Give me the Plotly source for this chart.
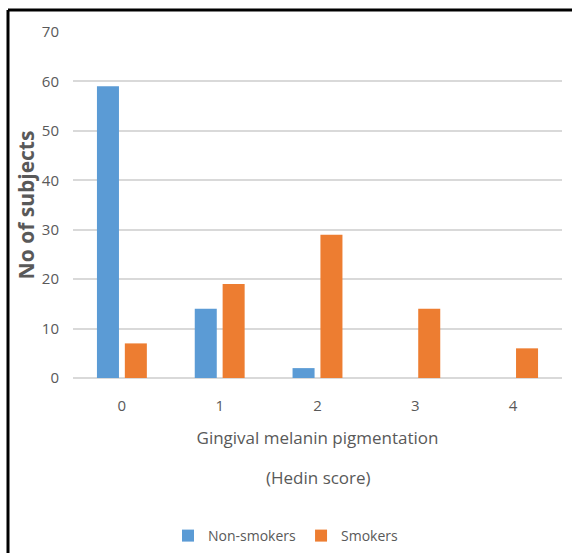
import plotly.graph_objects as go

categories = ["0", "1", "2", "3", "4"]
non_smokers = [59, 14, 2, 0, 0]
smokers = [7, 19, 29, 14, 6]
y_ticks = [0, 10, 20, 30, 40, 50, 60, 70]

FONT = "Open Sans, sans-serif"
GRAY = "#595959"

fig = go.Figure()
fig.add_trace(go.Bar(x=categories, y=non_smokers, name="Non-smokers",
                     marker=dict(color="#5b9bd5", line=dict(width=0))))
fig.add_trace(go.Bar(x=categories, y=smokers, name="Smokers",
                     marker=dict(color="#ed7d31", line=dict(width=0))))

W, H = 572, 553
L, R, T, B = 73, 10, 32, 175
pw = W - L - R
ph = H - T - B

def px_x(p):
    return (p - L) / pw

def px_y(p):
    return (H - B - p) / ph

fig.update_layout(
    width=W, height=H,
    margin=dict(l=L, r=R, t=T, b=B, autoexpand=False),
    paper_bgcolor="white", plot_bgcolor="white",
    barmode="group", bargap=0.43, bargroupgap=0.21,
    font=dict(family=FONT, color=GRAY, size=14),
    showlegend=True,
    legend=dict(orientation="h", x=px_x(286), xanchor="center", y=px_y(536), yanchor="middle",
                font=dict(size=14, color=GRAY, family=FONT), itemwidth=30,
                traceorder="normal"),
    xaxis=dict(
        title=dict(text="Gingival melanin pigmentation",
                   font=dict(size=17, color=GRAY, family=FONT), standoff=18),
        tickfont=dict(size=15, color=GRAY, family=FONT),
        showgrid=False, showline=False, ticks="", ticklen=0,
        ticklabelstandoff=17, automargin=False,
    ),
    yaxis=dict(
        title=dict(text="<b>No of subjects</b>", font=dict(size=21, color=GRAY, family=FONT), standoff=1),
        range=[0, 70], tickvals=y_ticks,
        tickfont=dict(size=15, color=GRAY, family=FONT),
        showgrid=True, gridcolor="#d9d9d9", gridwidth=1.8,
        zeroline=True, zerolinecolor="#d9d9d9", zerolinewidth=1.8,
        showline=False, ticks="", ticklabelstandoff=13, automargin=False,
    ),
    annotations=[
        dict(text="(Hedin score)", xref="paper", yref="paper",
             x=px_x(318), y=px_y(477), xanchor="center", yanchor="middle",
             showarrow=False, font=dict(size=17, color=GRAY, family=FONT)),
    ],
    shapes=[
        dict(type="line", xref="paper", yref="paper",
             x0=px_x(8), x1=px_x(8), y0=px_y(10), y1=px_y(553), line=dict(color="black", width=3)),
        dict(type="line", xref="paper", yref="paper",
             x0=px_x(8), x1=px_x(572), y0=px_y(10), y1=px_y(10), line=dict(color="black", width=3)),
    ],
)

fig.write_html("out.html", config={"displayModeBar": False},
               post_script="document.body.style.margin='0';document.body.style.overflow='hidden';")
